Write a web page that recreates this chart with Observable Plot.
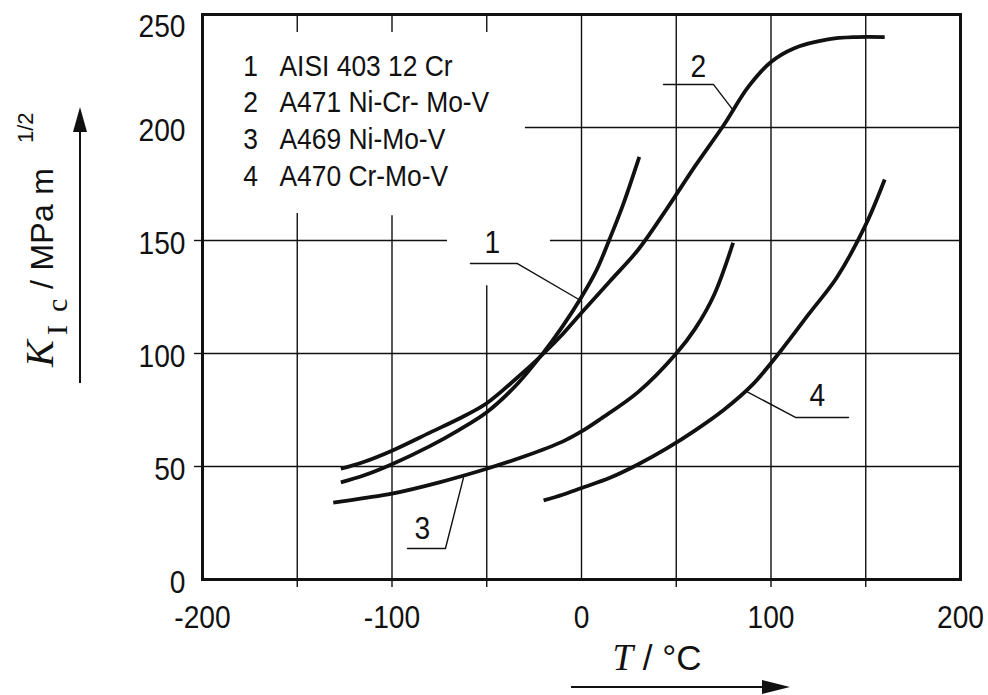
<!DOCTYPE html>
<html>
<head>
<meta charset="utf-8">
<script src="https://cdn.jsdelivr.net/npm/d3@7"></script>
<script src="https://cdn.jsdelivr.net/npm/@observablehq/plot@0.6"></script>
<style>
  html, body { margin: 0; padding: 0; background: #fff; }
  #chart { width: 988px; height: 695px; }
</style>
</head>
<body>
<div id="chart"></div>
<script>
// ---------------- data ----------------
const seriesIds = ["1", "2", "3", "4"];
const seriesNames = ["AISI 403 12 Cr", "A471 Ni-Cr- Mo-V", "A469 Ni-Mo-V", "A470 Cr-Mo-V"];

const curve1T = [-127, -115, -100, -80, -65, -50, -35, -20, -10, 0, 8, 15, 22, 30.5];
const curve1K = [43, 46, 51, 59, 66, 74, 85.5, 100.5, 112, 125, 137, 151, 166, 187];
const curve2T = [-127, -115, -100, -80, -65, -50, -35, -20, -10, 0, 15, 30, 45, 60, 75, 88, 100, 112, 130, 145, 160];
const curve2K = [49, 52, 57, 65, 71, 78, 88.5, 100, 108.5, 118, 132, 146, 164, 183, 201, 218, 229, 235, 239, 240, 240];
const curve3T = [-131, -115, -100, -75, -50, -30, -10, 0, 10, 30, 50, 60, 70, 80];
const curve3K = [34, 36, 38, 43, 49, 54.5, 61, 65.5, 71, 83, 100, 111, 126, 149];
const curve4T = [-20, -10, 0, 15, 30, 45, 60, 75, 90, 105, 120, 135, 150, 160];
const curve4K = [35, 37.5, 40.5, 45, 51, 58, 66, 75, 86, 101, 117.5, 134, 157, 177];

// curve number labels and their leader lines (data units)
const labelT = [-47, 61.7, -84, 124.5];
const labelK = [149, 227, 22.6, 81.4];
const leader1T = [-58.6, -33.8, -1.6];  const leader1K = [139.8, 139.8, 124];
const leader2T = [43.3, 69.7, 79.7];    const leader2K = [219, 219, 208];
const leader3T = [-91.8, -71.8, -62.3]; const leader3K = [13.7, 13.7, 45];
const leader4T = [86.5, 112.9, 140.9];  const leader4K = [83.5, 71.7, 71.7];

// axes
const xTicks = [-200, -100, 0, 100, 200];
const xMinorTicks = [-150, -100, -50, 50, 100, 150];
const yTicks = [0, 50, 100, 150, 200];
const yTopTick = [250];
const yMinorTicks = [50, 100, 150];

// grid (interrupted around the legend and labels, as in the original)
const gridV = [
  {x: -150, y1: 0, y2: 162}, {x: -150, y1: 242, y2: 250},
  {x: -100, y1: 0, y2: 161}, {x: -100, y1: 242, y2: 250},
  {x: -50, y1: 0, y2: 130},  {x: -50, y1: 242, y2: 250},
  {x: 0, y1: 0, y2: 250}, {x: 50, y1: 0, y2: 250},
  {x: 100, y1: 0, y2: 250}, {x: 150, y1: 0, y2: 250}
];
const gridH = [
  {y: 50, x1: -200, x2: 200}, {y: 100, x1: -200, x2: 200},
  {y: 150, x1: -200, x2: -70.7}, {y: 150, x1: -16.4, x2: 200},
  {y: 200, x1: -29.6, x2: 200}
];

// ---------------- build tables ----------------
const curves = [[curve1T, curve1K], [curve2T, curve2K], [curve3T, curve3K], [curve4T, curve4K]];
const curveRows = curves.flatMap(([T, K], i) => T.map((t, j) => ({id: seriesIds[i], T: t, K: K[j]})));
const leaders = [[leader1T, leader1K], [leader2T, leader2K], [leader3T, leader3K], [leader4T, leader4K]];
const leaderRows = leaders.flatMap(([T, K], i) => T.map((t, j) => ({id: seriesIds[i], T: t, K: K[j]})));
const labelRows = seriesIds.map((id, i) => ({id, T: labelT[i], K: labelK[i]}));

const ink = "#111";
const sans = "'Liberation Sans', Arial, sans-serif";
const serif = "'Liberation Serif', 'Times New Roman', serif";
const fmt = d => d < 0 ? "-" + Math.abs(d) : String(d);

const legendMarks = seriesIds.flatMap((id, i) => [
  Plot.text([id], {frameAnchor: "top-left", dx: 48, dy: 61 + i * 36.7, lineAnchor: "bottom", textAnchor: "middle", fontSize: 30, fill: ink}),
  Plot.text([seriesNames[i]], {frameAnchor: "top-left", dx: 77, dy: 61 + i * 36.7, lineAnchor: "bottom", textAnchor: "start", fontSize: 30, fill: ink})
]);

const plot = Plot.plot({
  width: 988,
  height: 695,
  marginLeft: 202,
  marginRight: 28,
  marginTop: 14,
  marginBottom: 116,
  x: {domain: [-200, 200]},
  y: {domain: [0, 250]},
  style: {fontFamily: sans, fontSize: "32px", color: ink, background: "#fff", overflow: "visible"},
  marks: [
    Plot.ruleX(gridV, {x: "x", y1: "y1", y2: "y2", stroke: ink, strokeWidth: 1.4}),
    Plot.ruleY(gridH, {y: "y", x1: "x1", x2: "x2", stroke: ink, strokeWidth: 1.4}),
    Plot.axisX({ticks: xMinorTicks, tickSize: 8, tickFormat: () => "", label: null, stroke: ink, strokeWidth: 1.4}),
    Plot.axisY({ticks: yMinorTicks, tickSize: 8, tickFormat: () => "", label: null, stroke: ink, strokeWidth: 1.4}),
    Plot.axisX({ticks: xTicks, tickSize: 0, tickPadding: 26, tickFormat: fmt, label: null, fill: ink}),
    Plot.axisY({ticks: yTicks, tickSize: 0, tickPadding: 17, tickFormat: fmt, label: null, fill: ink, dy: 3}),
    Plot.axisY({ticks: yTopTick, tickSize: 0, tickPadding: 17, tickFormat: fmt, label: null, fill: ink, dy: 12}),
    Plot.line(leaderRows, {x: "T", y: "K", z: "id", stroke: ink, strokeWidth: 1.4, curve: "linear"}),
    Plot.line(curveRows, {x: "T", y: "K", z: "id", stroke: ink, strokeWidth: 3.8, curve: "catmull-rom", strokeLinecap: "butt"}),
    Plot.text(labelRows, {x: "T", y: "K", text: "id", fontSize: 32, fill: ink}),
    ...legendMarks,
    Plot.frame({stroke: ink, strokeWidth: 3})
  ]
});

const svg = d3.select(plot);

// condensed look of the original lettering (horizontal squeeze around each text's anchor)
svg.selectAll("text").each(function () {
  const t = this.getAttribute("transform");
  if (t) {
    this.setAttribute("transform", t + " scale(0.88,1)");
  } else {
    const x = +this.getAttribute("x") || 0, y = +this.getAttribute("y") || 0;
    this.removeAttribute("x"); this.removeAttribute("y");
    this.setAttribute("transform", `translate(${x},${y}) scale(0.88,1)`);
  }
});

// y axis title: K_Ic / MPa m^1/2 (rotated, pieces placed individually)
function vtext(bx, by, str, family, size, italic, spacing) {
  const t = svg.append("text")
    .attr("transform", `translate(${bx},${by}) rotate(-90)`)
    .attr("text-anchor", "start")
    .attr("font-family", family).attr("font-size", size).attr("fill", ink).text(str);
  if (italic) t.attr("font-style", "italic");
  if (spacing) t.attr("letter-spacing", spacing);
  return t;
}
vtext(53, 367, "K", serif, 40, true);
vtext(67, 335, "I", serif, 30);
vtext(67, 312, "c", serif, 30);
vtext(53, 289, "/ MPa m", sans, 32, false, 0.3);
vtext(33, 143, "1/2", sans, 22);

// y arrow
svg.append("line").attr("x1", 80).attr("y1", 383).attr("x2", 80).attr("y2", 125).attr("stroke", ink).attr("stroke-width", 2);
svg.append("path").attr("d", "M80,107 L73,132 L87,132 Z").attr("fill", ink);

// x axis title: T / °C
const xl = svg.append("text").attr("x", 657).attr("y", 670).attr("text-anchor", "middle").attr("fill", ink);
xl.append("tspan").attr("font-family", serif).attr("font-style", "italic").attr("font-size", 37).text("T");
xl.append("tspan").attr("font-family", sans).attr("font-size", 35).text(" / °C");

// x arrow
svg.append("line").attr("x1", 571).attr("y1", 687).attr("x2", 765).attr("y2", 687).attr("stroke", ink).attr("stroke-width", 2);
svg.append("path").attr("d", "M790,687 L762,680 L762,694 Z").attr("fill", ink);

document.getElementById("chart").appendChild(plot);
</script>
</body>
</html>
